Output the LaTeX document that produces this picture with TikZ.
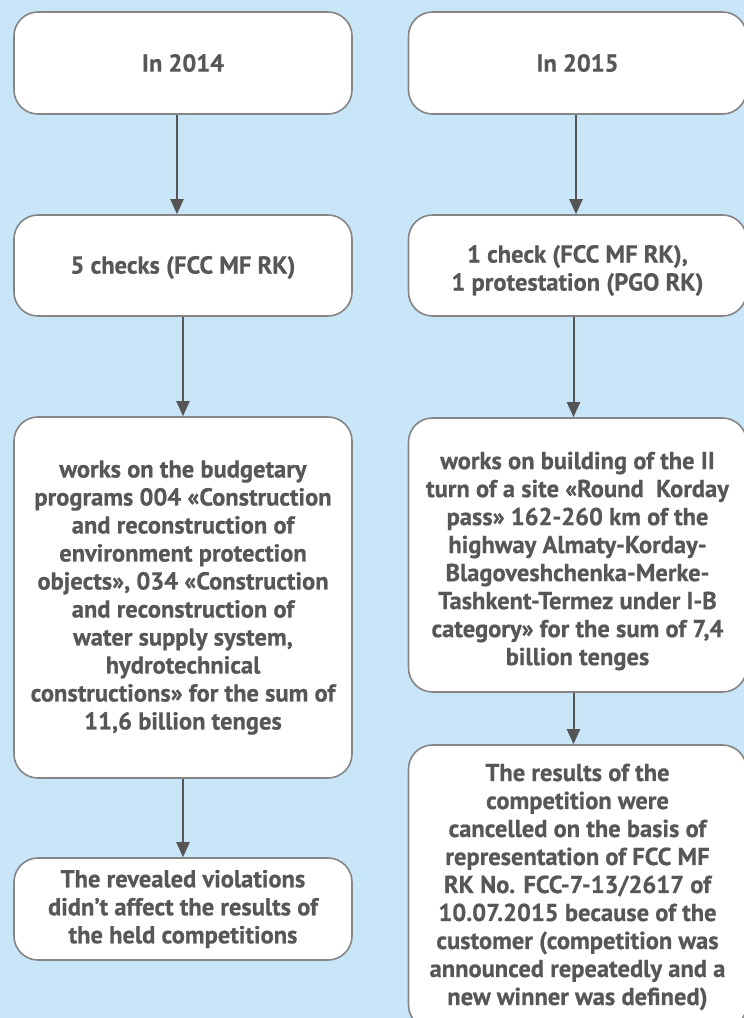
\documentclass[tikz,border=0pt]{standalone}
\usepackage{fontspec}
\setmainfont{PT Sans}[BoldFont={PT Sans Bold},BoldFeatures={FakeBold=0.6}]
\usetikzlibrary{arrows.meta}
\definecolor{bg}{HTML}{C9E6F8}
\definecolor{bordergrey}{HTML}{858585}
\definecolor{textgrey}{HTML}{575757}
\definecolor{arrowgrey}{HTML}{555555}
\tikzset{
  box/.style={draw=bordergrey, line width=1.6pt, fill=white, rounded corners=24pt,
    align=center, text=textgrey, font=\bfseries\fontsize{24.5}{28}\selectfont,
    minimum width=338pt, inner sep=0pt},
  txt/.style={align=center, text=textgrey, font=\bfseries\fontsize{24.5}{28}\selectfont, inner sep=0pt},
  arr/.style={draw=arrowgrey, line width=2pt, -{Triangle[length=15pt,width=13pt]}}
}
\begin{document}
\begin{tikzpicture}[x=1pt,y=-1pt]
\fill[bg] (0,0) rectangle (744,1018);
\useasboundingbox (0,0) rectangle (744,1018);
\clip (0,0) rectangle (744,1018);
% left column
\node[box, minimum height=102pt] (l1) at (183,63) {In 2014};
\node[box, minimum height=101pt] (l2) at (183,265.5) {};
\node[txt] (l2t) at ([yshift=-2pt]l2.center) {5 checks (FCC MF RK)};
\node[box, minimum height=361pt] (l3) at (183,597.5) {works on the budgetary\\programs 004 «Construction\\and reconstruction of\\environment protection\\objects», 034 «Construction\\and reconstruction of\\water supply system,\\hydrotechnical\\constructions» for the sum of\\11,6 billion tenges};
\node[box, minimum height=102pt] (l4) at (183,909) {The revealed violations\\didn’t affect the results of\\the held competitions};
% right column
\node[box, minimum height=102pt] (r1) at (577.5,63) {In 2015};
\node[box, minimum height=101pt] (r2) at (577.5,265.5) {};
\node[txt] (r2t) at ([yshift=-5pt]r2.center) {1 check (FCC MF RK),\\1 protestation (PGO RK)};
\node[box, minimum height=274pt] (r3) at (577.5,555) {};
\node[txt] (r3t) at ([yshift=-6pt]r3.center) {works on building of the II\\turn of a site «Round\ \ Korday\\pass» 162-260 km of the\\highway Almaty-Korday-\\Blagoveshchenka-Merke-\\Tashkent-Termez under I-B\\category» for the sum of 7,4\\billion tenges};
\node[box, minimum height=284pt] (r4) at (577.5,887) {The results of the\\competition were\\cancelled on the basis of\\representation of FCC MF\\RK No. FCC-7-13/2617 of\\10.07.2015 because of the\\customer (competition was\\announced repeatedly and a\\new winner was defined)};
% arrows
\draw[arr] ([xshift=-6pt]l1.south) -- ([xshift=-6pt]l2.north);
\draw[arr] (l2.south) -- (l3.north);
\draw[arr] (l3.south) -- (l4.north);
\draw[arr] ([xshift=-1.5pt]r1.south) -- ([xshift=-1.5pt]r2.north);
\draw[arr] ([xshift=-4pt]r2.south) -- ([xshift=-4pt]r3.north);
\draw[arr] ([xshift=-4pt]r3.south) -- ([xshift=-4pt]r4.north);
\end{tikzpicture}
\end{document}
